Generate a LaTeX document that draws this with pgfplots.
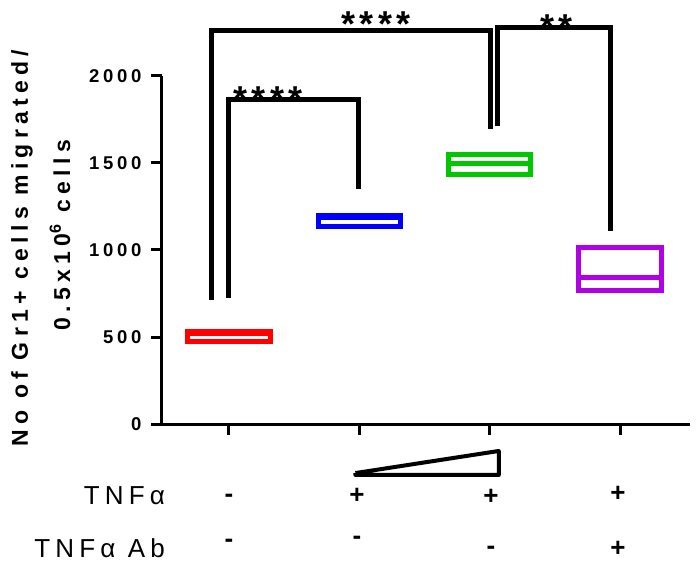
\documentclass[border=0pt]{standalone}
\usepackage{fontspec}
\setmainfont{Liberation Sans}
\usepackage{pgfplots}
\pgfplotsset{compat=1.18}
\newfontfamily\tickfont[LetterSpace=20]{Liberation Sans}
\newfontfamily\labfont[LetterSpace=23]{Liberation Sans}
\newfontfamily\rowfont[LetterSpace=20]{Liberation Sans}
\definecolor{cgreen}{RGB}{0,200,0}
\definecolor{cpurple}{RGB}{175,0,230}
\begin{document}
\begin{tikzpicture}
\useasboundingbox (-162pt,-151pt) rectangle (538pt,424pt);
\begin{axis}[
  at={(0pt,0pt)}, anchor=south west,
  scale only axis, width=528pt, height=348pt,
  xmin=0.486, xmax=4.537, ymin=0, ymax=2000,
  axis x line=bottom, axis y line=left,
  axis line style={line width=3pt, -},
  clip=false,
  xtick={1,2,3,4}, xticklabels={},
  ytick={0,500,1000,1500,2000},
  tick align=outside,
  major tick length=11pt,
  every tick/.style={line width=3pt, black},
  /pgf/number format/assume math mode=true,
  /pgf/number format/1000 sep={},
  yticklabel style={font=\tickfont\bfseries\fontsize{18.5}{20}\selectfont, xshift=-6pt},
]
% boxes (min, max, mean)
\addplot[red, line width=5pt, line join=miter] coordinates {(1,477)(1.315,477)(1.315,531)(0.685,531)(0.685,477)(1,477)};
\addplot[red, line width=5pt] coordinates {(0.685,520)(1.315,520)};
\addplot[blue, line width=5pt, line join=miter] coordinates {(2,1136)(2.315,1136)(2.315,1198)(1.685,1198)(1.685,1136)(2,1136)};
\addplot[blue, line width=5pt] coordinates {(1.685,1185)(2.315,1185)};
\addplot[cgreen, line width=5pt, line join=miter] coordinates {(3,1435)(3.315,1435)(3.315,1549)(2.685,1549)(2.685,1435)(3,1435)};
\addplot[cgreen, line width=5pt] coordinates {(2.685,1498)(3.315,1498)};
\addplot[cpurple, line width=5pt, line join=miter] coordinates {(4,766)(4.315,766)(4.315,1017)(3.685,1017)(3.685,766)(4,766)};
\addplot[cpurple, line width=5pt] coordinates {(3.685,843)(4.315,843)};
% significance brackets
\addplot[black, line width=5pt, line join=miter] coordinates {(0.862,713)(0.862,2263)(3.01,2263)(3.01,1693)};
\addplot[black, line width=5pt, line join=miter] coordinates {(1.0,724)(1.0,1864)(1.99,1864)(1.99,1351)};
\addplot[black, line width=5pt, line join=miter] coordinates {(3.06,1713)(3.06,2276)(3.927,2276)(3.927,1111)};
\node[anchor=base, font=\bfseries\fontsize{36}{38}\selectfont, inner sep=0pt] at (axis cs:2.128,2228) {*\hspace{4.5pt}*\hspace{4.5pt}*\hspace{4.5pt}*};
\node[anchor=base, font=\bfseries\fontsize{36}{38}\selectfont, inner sep=0pt] at (axis cs:1.30,1796) {*\hspace{4.5pt}*\hspace{4.5pt}*\hspace{4.5pt}*};
\node[anchor=base, font=\bfseries\fontsize{36}{38}\selectfont, inner sep=0pt] at (axis cs:3.514,2209) {*\hspace{4.5pt}*};
% wedge
\addplot[black, line width=4pt, line join=round] coordinates {(1.97,-282)(3.07,-155)(3.07,-293)(1.97,-293)(1.97,-282)};
% row labels
\node[anchor=east, inner sep=0pt, font=\rowfont\fontsize{26}{28}\selectfont] at (axis cs:0.51,-414) {TNFα};
\node[anchor=east, inner sep=0pt, font=\rowfont\fontsize{26}{28}\selectfont] at (axis cs:0.51,-713) {TNFα Ab};
\node[inner sep=0pt, font=\bfseries\fontsize{26}{28}\selectfont] at (axis cs:1,-425) {-};
\node[inner sep=0pt, font=\bfseries\fontsize{26}{28}\selectfont] at (axis cs:1.982,-414) {+};
\node[inner sep=0pt, font=\bfseries\fontsize{26}{28}\selectfont] at (axis cs:3.01,-420) {+};
\node[inner sep=0pt, font=\bfseries\fontsize{26}{28}\selectfont] at (axis cs:3.985,-402) {+};
\node[inner sep=0pt, font=\bfseries\fontsize{26}{28}\selectfont] at (axis cs:1,-684) {-};
\node[inner sep=0pt, font=\bfseries\fontsize{26}{28}\selectfont] at (axis cs:1.982,-667) {-};
\node[inner sep=0pt, font=\bfseries\fontsize{26}{28}\selectfont] at (axis cs:3.01,-724) {-};
\node[inner sep=0pt, font=\bfseries\fontsize{26}{28}\selectfont] at (axis cs:3.985,-718) {+};
\end{axis}
\node[rotate=90, inner sep=0pt, font=\labfont\bfseries\fontsize{23}{25}\selectfont] at (-140pt,176pt) {No of Gr1+ cells migrated/};
\node[rotate=90, inner sep=0pt, font=\labfont\bfseries\fontsize{23}{25}\selectfont] at (-102pt,189pt) {0.5x10\textsuperscript{6} cells};
\end{tikzpicture}
\end{document}
